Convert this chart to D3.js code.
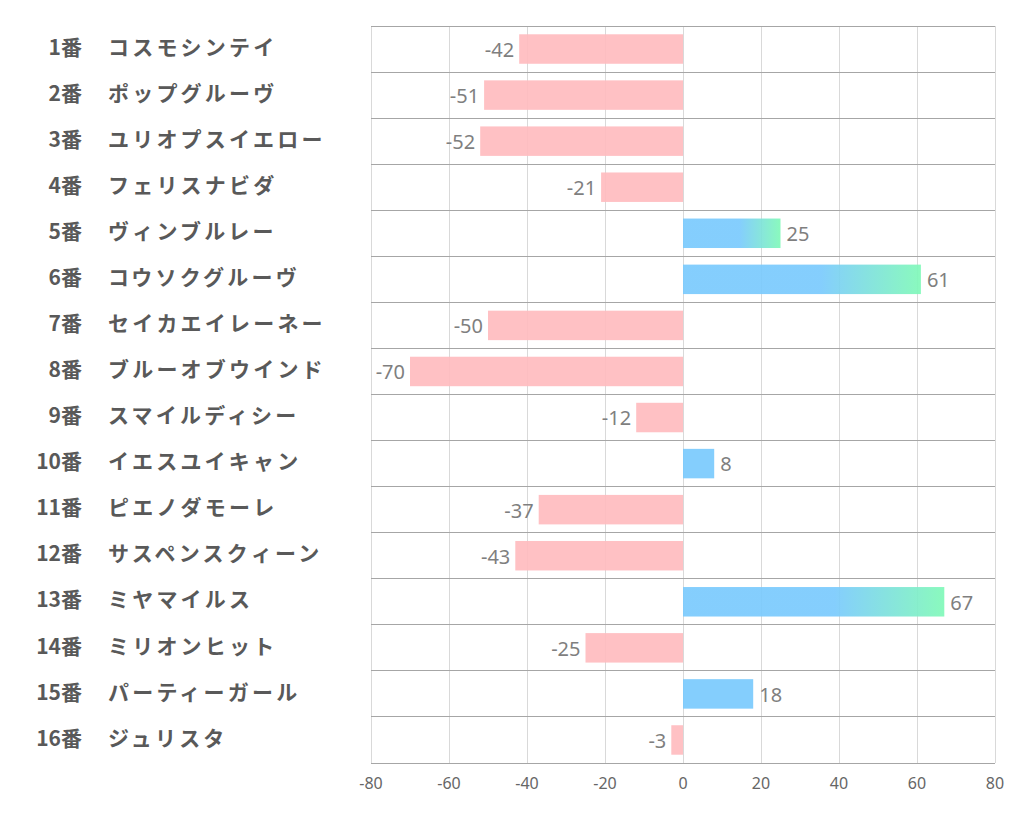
<!DOCTYPE html>
<html><head><meta charset="utf-8">
<script src="https://cdn.jsdelivr.net/npm/d3@7"></script>
<style>body{margin:0;background:#fff}svg{display:block}</style>
</head><body>
<script>
const numbers = ["1番","2番","3番","4番","5番","6番","7番","8番","9番","10番","11番","12番","13番","14番","15番","16番"];
const names = ["コスモシンテイ","ポップグルーヴ","ユリオプスイエロー","フェリスナビダ","ヴィンブルレー","コウソクグルーヴ","セイカエイレーネー","ブルーオブウインド","スマイルディシー","イエスユイキャン","ピエノダモーレ","サスペンスクィーン","ミヤマイルス","ミリオンヒット","パーティーガール","ジュリスタ"];
const values = [-42,-51,-52,-21,25,61,-50,-70,-12,8,-37,-43,67,-25,18,-3];
const xTicks = [-80,-60,-40,-20,0,20,40,60,80];

const W=1022,H=834;
const svg=d3.select("body").append("svg").attr("width",W).attr("height",H);
const pL=371,pR=995,pT=26,pB=763;
const x=d3.scaleLinear().domain([-80,80]).range([pL,pR]);
const y=d3.scaleBand().domain(d3.range(values.length)).range([pT,pB]).paddingInner(0.36).paddingOuter(0.18);
const yb=d3.scaleBand().domain(d3.range(values.length)).range([pT,pB]);

const defs=svg.append("defs");
const g=defs.append("linearGradient").attr("id","grad").attr("x1","0").attr("x2","1").attr("y1","0").attr("y2","0");
g.append("stop").attr("offset","0").attr("stop-color","#7acafd");
g.append("stop").attr("offset","0.58").attr("stop-color","#7acafd");
g.append("stop").attr("offset","1").attr("stop-color","#80f9b8");

// vertical grid
svg.append("g").selectAll("line").data(xTicks).join("line")
 .attr("x1",d=>x(d)).attr("x2",d=>x(d)).attr("y1",pT).attr("y2",pB)
 .attr("stroke","#d9d9d9").attr("stroke-width",1).attr("shape-rendering","crispEdges");
// horizontal separators
svg.append("g").selectAll("line").data(d3.range(values.length+1)).join("line")
 .attr("x1",pL).attr("x2",pR)
 .attr("y1",d=>pT+d*yb.step()).attr("y2",d=>pT+d*yb.step())
 .attr("stroke","#a6a6a6").attr("stroke-width",1).attr("shape-rendering","crispEdges");

// bars
svg.append("g").selectAll("rect").data(values).join("rect")
 .attr("x",d=>x(Math.min(0,d))).attr("width",d=>Math.abs(x(d)-x(0)))
 .attr("y",(d,i)=>y(i)).attr("height",y.bandwidth())
 .attr("fill",d=>d<0?"#ffbcbf":(d>=20?"url(#grad)":"#7acafd"))
 .attr("fill-opacity",0.92);

// value labels
svg.append("g").selectAll("text").data(values).join("text")
 .attr("x",d=>d<0?x(d)-5:x(d)+6)
 .attr("y",(d,i)=>y(i)+y.bandwidth()/2+2.5)
 .attr("text-anchor",d=>d<0?"end":"start")
 .attr("dominant-baseline","middle")
 .attr("font-family","'Noto Sans',sans-serif").attr("font-size",20).attr("fill","#7f7f7f")
 .text(d=>d);

// x axis labels
svg.append("g").selectAll("text").data(xTicks).join("text")
 .attr("x",d=>x(d)).attr("y",789).attr("text-anchor","middle")
 .attr("font-family","'Noto Sans',sans-serif").attr("font-size",16).attr("fill","#666666")
 .text(d=>d);

// category labels
const lab=svg.append("g").attr("font-family","'Noto Sans CJK JP',sans-serif").attr("font-weight","bold").attr("font-size",21).attr("fill","#595959");
lab.selectAll("text.num").data(numbers).join("text").attr("class","num")
 .attr("x",82).attr("y",(d,i)=>yb(i)+yb.bandwidth()/2).attr("text-anchor","end").attr("dominant-baseline","middle").text(d=>d);
lab.selectAll("text.nm").data(names).join("text").attr("class","nm")
 .attr("x",108).attr("y",(d,i)=>yb(i)+yb.bandwidth()/2).attr("dominant-baseline","middle")
 .attr("letter-spacing",3.2).text(d=>d);
</script>
</body></html>
